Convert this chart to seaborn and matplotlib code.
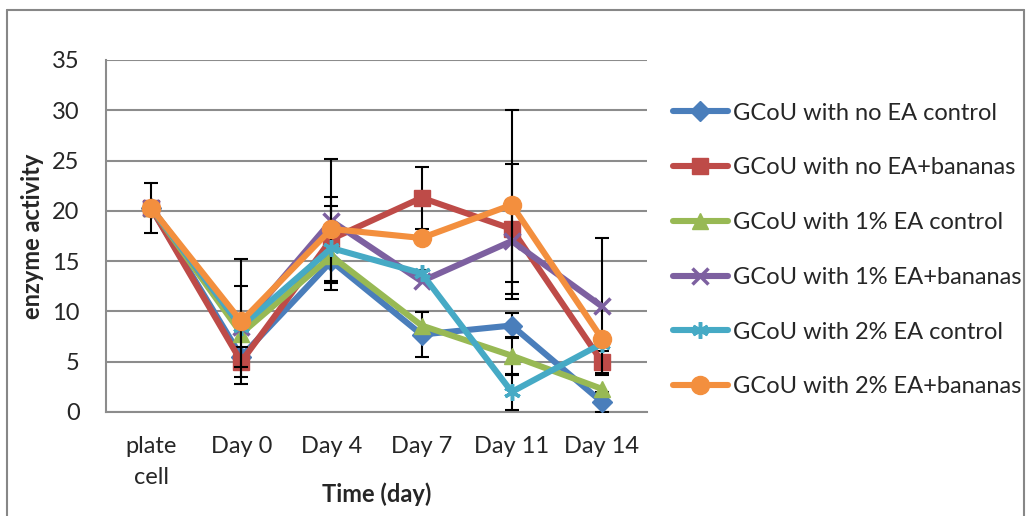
import matplotlib
matplotlib.use("Agg")
import matplotlib.pyplot as plt
from matplotlib.lines import Line2D
import seaborn as sns
import numpy as np
import pandas as pd

categories = ["plate\ncell", "Day 0", "Day 4", "Day 7", "Day 11", "Day 14"]
series_names = [
    "GCoU with no EA control",
    "GCoU with no EA+bananas",
    "GCoU with 1% EA control",
    "GCoU with 1% EA+bananas",
    "GCoU with 2% EA control",
    "GCoU with 2% EA+bananas",
]
no_ea_control = [20.3, 5.5, 15.0, 7.7, 8.6, 1.0]
no_ea_bananas = [20.3, 5.0, 17.2, 21.3, 18.2, 5.0]
ea1_control = [20.3, 7.8, 15.5, 8.6, 5.6, 2.3]
ea1_bananas = [20.3, 8.5, 19.0, 13.0, 17.0, 10.5]
ea2_control = [20.3, 8.5, 16.3, 13.8, 2.0, 6.8]
ea2_bananas = [20.3, 9.0, 18.2, 17.3, 20.6, 7.3]

err_no_ea_control = [0, 0, 0, 2.2, 1.2, 1.0]
err_no_ea_bananas = [0, 1.5, 4.2, 3.1, 6.5, 1.1]
err_ea1_control = [0, 0, 0, 0, 1.9, 0]
err_ea1_bananas = [0, 4.0, 6.2, 0, 4.1, 6.8]
err_ea2_control = [0, 0, 4.2, 0.3, 1.8, 0]
err_ea2_bananas = [2.5, 6.2, 0, 0, 9.4, 0]

values = [no_ea_control, no_ea_bananas, ea1_control, ea1_bananas, ea2_control, ea2_bananas]
errors = [err_no_ea_control, err_no_ea_bananas, err_ea1_control, err_ea1_bananas,
          err_ea2_control, err_ea2_bananas]
colors = ["#4A7EBB", "#BE4B48", "#98B954", "#7D60A0", "#46AAC5", "#F38F3E"]
markers = ["D", "s", "^", "x", (6, 2, 0), "o"]
msizes = [10, 12, 11, 12, 12, 13]

sns.set_theme(style="white")
plt.rcParams["font.family"] = ["Lato", "DejaVu Sans"]
FS = 17

fig = plt.figure(figsize=(10.26, 5.16), dpi=100)
ax = fig.add_axes([106 / 1026, 1 - 412 / 516, (647 - 106) / 1026, (412 - 60) / 516])

x = np.arange(len(categories))
for i, (name, vals, errs) in enumerate(zip(series_names, values, errors)):
    base = 3 + i * 0.1
    e = np.array(errs, dtype=float)
    mask = e > 0
    if mask.any():
        ax.errorbar(x[mask], np.array(vals)[mask], yerr=e[mask], fmt="none",
                    ecolor="black", elinewidth=1.5, capsize=5, capthick=1.5,
                    zorder=base)
    df = pd.DataFrame({"x": x, "y": vals})
    sns.lineplot(data=df, x="x", y="y", ax=ax, color=colors[i], lw=4.4,
                 marker=markers[i], markersize=msizes[i], markeredgecolor=colors[i],
                 markeredgewidth=2.5 if markers[i] in ("x", (6, 2, 0)) else 1,
                 label=name, zorder=base + 0.05)

ax.set_xlim(-0.5, len(categories) - 0.5)
ax.set_ylim(0, 35)
ax.set_yticks(np.arange(0, 36, 5))
ax.set_xticks(x)
ax.set_xticklabels(categories, fontsize=FS, linespacing=1.6)
ax.tick_params(axis="y", labelsize=FS, length=0, pad=19)
ax.tick_params(axis="x", length=0, pad=17)
ax.grid(axis="y", color="#8C8C8C", lw=1.5)
ax.grid(axis="x", visible=False)
for s in ["top", "right"]:
    ax.spines[s].set_visible(False)
for s in ["left", "bottom"]:
    ax.spines[s].set_color("#8C8C8C")
    ax.spines[s].set_linewidth(1.5)
ax.set_axisbelow(True)

ax.set_xlabel("Time (day)", fontsize=FS, fontweight="bold")
ax.set_ylabel("enzyme activity", fontsize=FS, fontweight="bold")
ax.xaxis.set_label_coords(0.5, -0.2)
ax.yaxis.set_label_coords(-0.115, 0.5)

leg = ax.legend(loc="center left", bbox_to_anchor=(1.031, 0.460), frameon=False,
                fontsize=FS, handlelength=2.3, handletextpad=0.22,
                labelspacing=1.43, borderaxespad=0)

# outer chart border (top, left, right)
for xs, ys in [((7 / 1026, 7 / 1026), (0, 1 - 9.5 / 516)),
               ((7 / 1026, 1024 / 1026), (1 - 9.5 / 516, 1 - 9.5 / 516)),
               ((1024 / 1026, 1024 / 1026), (0, 1 - 9.5 / 516))]:
    fig.add_artist(Line2D(xs, ys, color="#878787", lw=1.5, transform=fig.transFigure))

fig.savefig("out.png", dpi=100)
